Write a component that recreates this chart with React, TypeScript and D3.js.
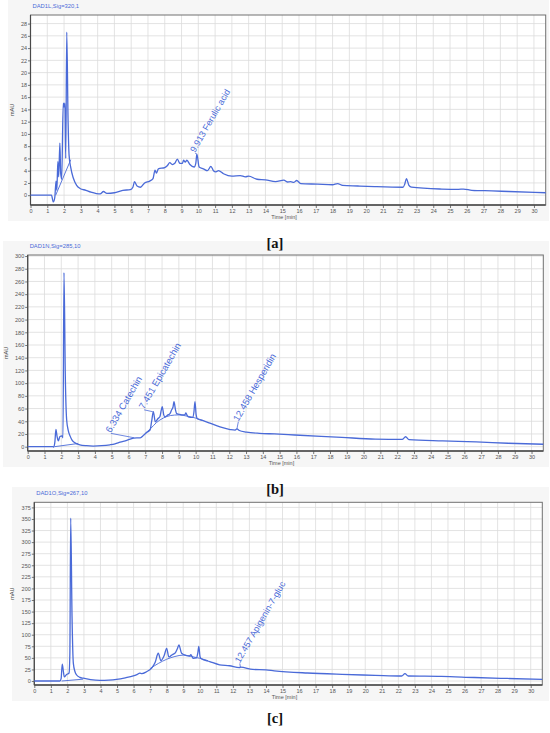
import React, { useRef, useEffect } from "react";
import * as d3 from "d3";

// shared time axis (minutes)
const timeDomain = [0, 30.7];
const timeTicks = [0, 1, 2, 3, 4, 5, 6, 7, 8, 9, 10, 11, 12, 13, 14, 15, 16, 17, 18, 19, 20, 21, 22, 23, 24, 25, 26, 27, 28, 29, 30];

// [a] DAD1L, 320 nm
const ticksA = [0, 2, 4, 6, 8, 10, 12, 14, 16, 18, 20, 22, 24, 26, 28];
const traceA = [
  [0, 0], [1.25, 0], [1.36, -1.1], [1.45, -0.3], [1.52, 2.3], [1.57, 0.8], [1.63, 5.5], [1.68, 3], [1.75, 8.5],
  [1.8, 3.5], [1.86, 2.6], [1.95, 15], [2.0, 14.4], [2.05, 15], [2.1, 6], [2.16, 26.6], [2.24, 12], [2.3, 6.5],
  [2.4, 4.5], [2.55, 2.8], [2.75, 1.6], [2.95, 1.1], [3.3, 0.8], [3.6, 0.5], [3.93, 0.27], [4.15, 0.2], [4.35, 0.6],
  [4.55, 0.3], [5.0, 0.4], [5.5, 0.8], [5.95, 0.9], [6.1, 1.3], [6.2, 2.2], [6.35, 1.5], [6.55, 1.3], [6.8, 2.0],
  [7.1, 2.3], [7.3, 2.7], [7.42, 4.1], [7.5, 3.6], [7.62, 4.3], [8.0, 4.5], [8.15, 4.8], [8.3, 5.3], [8.45, 5.0],
  [8.6, 5.2], [8.75, 5.9], [8.9, 5.2], [9.05, 5.2], [9.12, 5.7], [9.22, 5.4], [9.32, 5.7], [9.5, 5.0], [9.75, 4.6],
  [9.85, 5.2], [9.913, 6.7], [10.05, 4.6], [10.3, 4.3], [10.55, 4.0], [10.75, 4.7], [10.9, 4.0], [11.05, 3.8],
  [11.2, 4.0], [11.5, 3.5], [12.0, 3.1], [12.5, 3.2], [12.8, 3.0], [13.0, 3.1], [13.5, 2.6], [14.0, 2.5], [14.6, 2.2],
  [15.1, 2.45], [15.3, 2.15], [15.5, 2.2], [15.7, 2.1], [15.86, 2.4], [16.1, 1.9], [17.1, 1.8], [18.0, 1.7],
  [18.3, 1.9], [18.6, 1.6], [19.5, 1.5], [20.5, 1.4], [22.2, 1.3], [22.3, 1.8], [22.4, 2.7], [22.55, 1.6],
  [22.7, 1.3], [24.5, 1.0], [25.5, 0.95], [25.8, 1.0], [26.3, 0.8], [27.5, 0.7], [28.5, 0.6], [30.7, 0.4],
];
const baselinesA = [
  [[1.5, 0], [2.4, 5.8]],
];
const peaksA = [
  { time: 9.913, value: 6.7, labelTime: 9.8, labelValue: 6.9, label: "9.913 Ferulic acid" },
];

// [b] DAD1N, 285 nm
const ticksB = [0, 20, 40, 60, 80, 100, 120, 140, 160, 180, 200, 220, 240, 260, 280, 300];
const traceB = [
  [0, 0], [1.5, 0], [1.55, -0.5], [1.62, 8], [1.68, 27], [1.75, 16], [1.82, 9], [1.92, 16], [2.04, 17], [2.1, 14],
  [2.16, 274], [2.24, 110], [2.32, 42], [2.42, 25], [2.52, 17], [2.65, 10], [2.82, 6], [3.1, 3], [3.5, 1.5],
  [3.9, 1], [4.4, 1.5], [4.9, 3], [5.2, 4.5], [5.5, 7], [5.9, 10], [6.3, 13.6], [6.5, 14], [6.7, 14], [6.9, 18],
  [7.07, 22], [7.28, 26], [7.38, 40], [7.48, 55], [7.6, 39], [7.75, 44], [7.87, 47], [7.95, 57], [8.01, 63],
  [8.1, 50], [8.17, 47], [8.35, 50], [8.47, 52], [8.57, 58], [8.65, 62], [8.71, 71], [8.8, 58], [8.87, 52],
  [9.0, 51], [9.17, 50], [9.35, 50], [9.42, 53], [9.5, 49], [9.56, 47], [9.82, 46], [9.9, 55], [9.96, 71],
  [10.03, 50], [10.1, 44], [10.45, 41], [10.85, 37], [11.45, 31], [12.05, 27], [12.35, 26], [12.46, 28],
  [12.6, 25.5], [13.03, 23], [13.8, 21], [14.7, 20], [15.9, 18.4], [18.7, 14.6], [20.7, 12], [22.3, 11.5],
  [22.5, 15.6], [22.7, 11], [24.7, 9], [26.7, 7.5], [28.6, 5.4], [30.7, 3.8],
];
const baselinesB = [
  [[1.6, 0], [3.0, 5]],
  [[7.0, 21], [7.3, 28], [7.67, 38], [8.07, 45], [8.5, 49], [9.0, 50], [9.5, 48], [10.0, 45], [10.45, 41]],
];
const peaksB = [
  { time: 6.334, value: 14, labelTime: 4.95, labelValue: 21, label: "6.334 Catechin" },
  { time: 7.451, value: 55, labelTime: 6.93, labelValue: 58, label: "7.451 Epicatechin" },
  { time: 12.458, value: 28, labelTime: 12.54, labelValue: 39, label: "12.458 Hesperidin" },
];

// [c] DAD1O, 267 nm
const ticksC = [0, 25, 50, 75, 100, 125, 150, 175, 200, 225, 250, 275, 300, 325, 350, 375];
const traceC = [
  [0, 0], [1.55, 0], [1.62, 5], [1.69, 36.7], [1.76, 20], [1.81, 9], [1.95, 14], [2.1, 17.3], [2.15, 60],
  [2.2, 352], [2.28, 140], [2.36, 38], [2.46, 20], [2.56, 13], [2.75, 8], [2.96, 6], [3.4, 3], [3.97, 1.4],
  [4.5, 2], [4.97, 3.6], [5.5, 7], [5.98, 11], [6.2, 14], [6.38, 17], [6.5, 16], [6.78, 20], [7.09, 28],
  [7.3, 40], [7.49, 60], [7.65, 44], [7.85, 55], [8.0, 70.6], [8.13, 52], [8.3, 56], [8.4, 58], [8.54, 62],
  [8.65, 70], [8.74, 78], [8.9, 60], [9.2, 55], [9.38, 54], [9.46, 57], [9.6, 49], [9.8, 50], [9.88, 60],
  [9.94, 75], [10.02, 52], [10.1, 48], [10.6, 42], [11.2, 35], [11.8, 33], [12.4, 29], [12.46, 30], [13.2, 25],
  [14.0, 24], [14.5, 22], [16.5, 17.3], [18.6, 14.4], [20.6, 12.3], [22.2, 10.8], [22.4, 15.8], [22.6, 10.8],
  [24.6, 10], [26.6, 7.6], [28.6, 5.5], [30.7, 3.6],
];
const baselinesC = [
  [[1.65, 0], [2.95, 4]],
  [[7.0, 27], [7.5, 38], [8.0, 47], [8.5, 53], [9.0, 56], [9.5, 53], [10.0, 49], [10.5, 44]],
];
const peaksC = [
  { time: 12.457, value: 29, labelTime: 12.42, labelValue: 38, label: "12.457 Apigenin-7-gluc" },
];

const BLUE = "#4a6ad8";
const SANS = "'Liberation Sans', Arial, sans-serif";

const panels = [
  {
    title: "DAD1L,Sig=320,1", tag: "[a]", trace: traceA, baselines: baselinesA, peaks: peaksA, ticks: ticksA,
    yDomain: [-1.6, 29.4], left: 30.5, right: 545.7, top: 15, bottom: 205,
    back: [8, 0, 541, 221], titleY: 8, unitX: 12, tagY: 248, labelSize: 9,
  },
  {
    title: "DAD1N,Sig=285,10", tag: "[b]", trace: traceB, baselines: baselinesB, peaks: peaksB, ticks: ticksB,
    yDomain: [-6.8, 301.6], left: 27.7, right: 543.3, top: 255, bottom: 451,
    back: [3, 241, 546, 226], titleY: 248, unitX: 6, tagY: 494, labelSize: 9.4,
  },
  {
    title: "DAD1O,Sig=267,10", tag: "[c]", trace: traceC, baselines: baselinesC, peaks: peaksC, ticks: ticksC,
    yDomain: [-8.6, 386], left: 34.3, right: 542.3, top: 502.3, bottom: 685,
    back: [12, 487, 537, 214], titleY: 495, unitX: 12, tagY: 723, labelSize: 9,
  },
];

function drawPanel(svg, p) {
  const g = svg.append("g");
  g.append("rect")
    .attr("x", p.back[0]).attr("y", p.back[1])
    .attr("width", p.back[2]).attr("height", p.back[3])
    .attr("fill", "#f6f6f6");

  const x = d3.scaleLinear().domain(timeDomain).range([p.left, p.right]);
  const y = d3.scaleLinear().domain(p.yDomain).range([p.bottom, p.top]);

  g.append("rect")
    .attr("x", p.left).attr("y", p.top)
    .attr("width", p.right - p.left).attr("height", p.bottom - p.top)
    .attr("fill", "#fff");

  // grid
  g.selectAll(".vgrid").data(timeTicks).enter().append("line")
    .attr("x1", d => x(d)).attr("x2", d => x(d))
    .attr("y1", p.top).attr("y2", p.bottom)
    .attr("stroke", "#dcdcdc").attr("stroke-width", 0.8);
  g.selectAll(".hgrid").data(p.ticks).enter().append("line")
    .attr("x1", p.left).attr("x2", p.right)
    .attr("y1", d => y(d)).attr("y2", d => y(d))
    .attr("stroke", "#dcdcdc").attr("stroke-width", 0.8);

  // axes
  const xAxis = g.append("g")
    .attr("transform", `translate(0,${p.bottom})`)
    .call(d3.axisBottom(x).tickValues(timeTicks).tickSize(3).tickPadding(1.5).tickFormat(d3.format("d")));
  const yAxis = g.append("g")
    .attr("transform", `translate(${p.left},0)`)
    .call(d3.axisLeft(y).tickValues(p.ticks).tickSize(2.5).tickPadding(1).tickFormat(d3.format("d")));
  [xAxis, yAxis].forEach(a => {
    a.select(".domain").remove();
    a.selectAll(".tick line").attr("stroke", "#555").attr("stroke-width", 0.8);
    a.selectAll("text").attr("fill", "#555").attr("font-size", 5.5).attr("font-family", SANS);
  });

  // frame
  g.append("rect")
    .attr("x", p.left).attr("y", p.top)
    .attr("width", p.right - p.left).attr("height", p.bottom - p.top)
    .attr("fill", "none").attr("stroke", "#707070").attr("stroke-width", 1);
  g.append("line")
    .attr("x1", p.left).attr("x2", p.right).attr("y1", p.bottom).attr("y2", p.bottom)
    .attr("stroke", "#4a4a4a").attr("stroke-width", 1.4);
  g.append("line")
    .attr("x1", p.left).attr("x2", p.left).attr("y1", p.top).attr("y2", p.bottom)
    .attr("stroke", "#4a4a4a").attr("stroke-width", 1.2);

  const line = d3.line().x(d => x(d[0])).y(d => y(d[1])).curve(d3.curveMonotoneX);

  // integration baselines
  p.baselines.forEach(b => {
    g.append("path").datum(b)
      .attr("fill", "none").attr("stroke", BLUE).attr("stroke-width", 0.9)
      .attr("d", line);
  });

  // signal
  g.append("path").datum(p.trace)
    .attr("fill", "none").attr("stroke", BLUE).attr("stroke-width", 1.3)
    .attr("stroke-linejoin", "round")
    .attr("d", line);

  // peak labels
  p.peaks.forEach(pk => {
    g.append("line")
      .attr("x1", x(pk.labelTime)).attr("y1", y(pk.labelValue))
      .attr("x2", x(pk.time)).attr("y2", y(pk.value))
      .attr("stroke", BLUE).attr("stroke-width", 0.8);
    g.append("text")
      .attr("transform", `translate(${x(pk.labelTime)},${y(pk.labelValue)}) rotate(-60)`)
      .attr("fill", BLUE).attr("font-size", p.labelSize).attr("font-family", SANS)
      .text(pk.label);
  });

  // texts
  g.append("text")
    .attr("x", p.left + 2).attr("y", p.titleY)
    .attr("fill", BLUE).attr("font-size", 5.8).attr("font-family", SANS)
    .text(p.title);
  g.append("text")
    .attr("transform", `translate(${p.unitX},${(p.top + p.bottom) / 2}) rotate(-90)`)
    .attr("text-anchor", "middle").attr("dy", "0.35em")
    .attr("fill", "#444").attr("font-size", 5.5).attr("font-family", SANS)
    .text("mAU");
  g.append("text")
    .attr("x", x(14.5) - 2.5).attr("y", p.bottom + 13.7)
    .attr("fill", "#555").attr("font-size", 5.5).attr("font-family", SANS)
    .text("Time [min]");
}

function drawTag(svg, p) {
  svg.append("text")
    .attr("x", 275).attr("y", p.tagY)
    .attr("text-anchor", "middle")
    .attr("fill", "#111").attr("font-size", 14.5).attr("font-weight", "bold")
    .attr("font-family", "'Liberation Serif', 'Times New Roman', serif")
    .text(p.tag);
}

export default function App() {
  const ref = useRef(null);

  useEffect(() => {
    if (!ref.current) return;
    const svg = d3.select(ref.current);
    svg.selectAll("*").remove();
    svg.append("rect").attr("width", 550).attr("height", 733).attr("fill", "#fff");
    panels.forEach(p => drawPanel(svg, p));
    // figure letters sit between the panels, on top of the backdrops
    panels.forEach(p => drawTag(svg, p));
  }, []);

  return (
    <svg
      ref={ref}
      width={550}
      height={733}
      style={{ position: "absolute", left: 0, top: 0, display: "block" }}
    />
  );
}
